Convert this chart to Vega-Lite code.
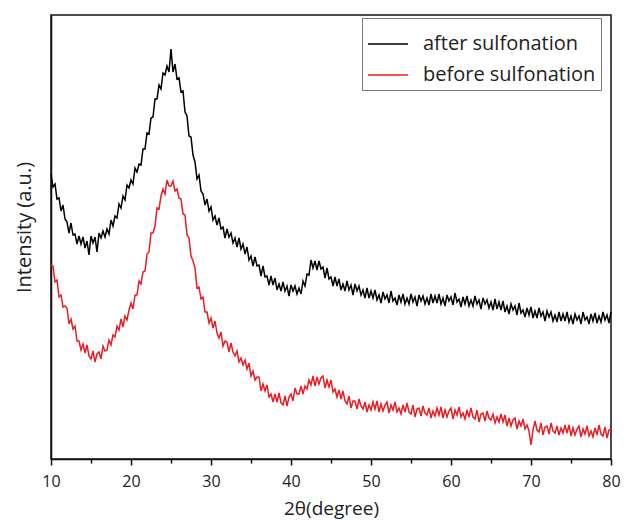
{
  "$schema": "https://vega.github.io/schema/vega-lite/v6.json",
  "width": 560,
  "height": 444,
  "autosize": {"type": "none"},
  "padding": {"left": 51, "top": 15, "right": 17, "bottom": 62},
  "background": "white",
  "config": {
    "view": {"stroke": "#111111", "strokeWidth": 1.5},
    "font": "Open Sans",
    "axis": {"labelColor": "#222222", "titleColor": "#222222", "domainColor": "#111111", "tickColor": "#111111", "domainWidth": 1.5, "tickWidth": 1.5, "grid": false, "titleFontWeight": "normal"}
  },
  "data": {
    "values": [
      {"x":10,"a":285,"b":194},{"x":10.25,"a":272,"b":193},{"x":10.5,"a":275,"b":177},{"x":10.75,"a":260,"b":179},
      {"x":11,"a":261,"b":162},{"x":11.25,"a":248,"b":164},{"x":11.5,"a":254,"b":152},{"x":11.75,"a":240,"b":153},
      {"x":12,"a":237,"b":151},{"x":12.25,"a":226,"b":135},{"x":12.5,"a":236,"b":140},{"x":12.75,"a":224,"b":130},
      {"x":13,"a":225,"b":133},{"x":13.25,"a":215,"b":118},{"x":13.5,"a":223,"b":118},{"x":13.75,"a":215,"b":109},
      {"x":14,"a":222,"b":115},{"x":14.25,"a":211,"b":106},{"x":14.5,"a":218,"b":114},{"x":14.75,"a":204,"b":103},
      {"x":15,"a":223,"b":100},{"x":15.25,"a":216,"b":108},{"x":15.5,"a":222,"b":97},{"x":15.75,"a":207,"b":105},
      {"x":16,"a":226,"b":107},{"x":16.25,"a":221,"b":100},{"x":16.5,"a":228,"b":113},{"x":16.75,"a":222,"b":108},
      {"x":17,"a":230,"b":109},{"x":17.25,"a":225,"b":119},{"x":17.5,"a":239,"b":114},{"x":17.75,"a":233,"b":124},
      {"x":18,"a":243,"b":122},{"x":18.25,"a":241,"b":133},{"x":18.5,"a":255,"b":129},{"x":18.75,"a":251,"b":140},
      {"x":19,"a":263,"b":132},{"x":19.25,"a":259,"b":143},{"x":19.5,"a":274,"b":139},{"x":19.75,"a":271,"b":149},
      {"x":20,"a":279,"b":156},{"x":20.25,"a":275,"b":150},{"x":20.5,"a":291,"b":164},{"x":20.75,"a":287,"b":164},
      {"x":21,"a":295,"b":178},{"x":21.25,"a":294,"b":175},{"x":21.5,"a":310,"b":187},{"x":21.75,"a":310,"b":188},
      {"x":22,"a":326,"b":205},{"x":22.25,"a":325,"b":207},{"x":22.5,"a":341,"b":226},{"x":22.75,"a":342,"b":226},
      {"x":23,"a":360,"b":233},{"x":23.25,"a":360,"b":251},{"x":23.5,"a":374,"b":250},{"x":23.75,"a":370,"b":263},
      {"x":24,"a":386,"b":270},{"x":24.25,"a":384,"b":265},{"x":24.5,"a":393,"b":279},{"x":24.75,"a":387,"b":273},
      {"x":25,"a":410,"b":273},{"x":25.25,"a":387,"b":278},{"x":25.5,"a":395,"b":268},{"x":25.75,"a":380,"b":270},
      {"x":26,"a":381,"b":261},{"x":26.25,"a":367,"b":260},{"x":26.5,"a":368,"b":245},{"x":26.75,"a":347,"b":244},
      {"x":27,"a":343,"b":224},{"x":27.25,"a":323,"b":221},{"x":27.5,"a":322,"b":203},{"x":27.75,"a":304,"b":198},
      {"x":28,"a":297,"b":191},{"x":28.25,"a":280,"b":171},{"x":28.5,"a":284,"b":172},{"x":28.75,"a":268,"b":160},
      {"x":29,"a":265,"b":162},{"x":29.25,"a":254,"b":147},{"x":29.5,"a":260,"b":147},{"x":29.75,"a":248,"b":136},
      {"x":30,"a":252,"b":141},{"x":30.25,"a":239,"b":131},{"x":30.5,"a":243,"b":138},{"x":30.75,"a":234,"b":126},
      {"x":31,"a":241,"b":121},{"x":31.25,"a":230,"b":127},{"x":31.5,"a":232,"b":113},{"x":31.75,"a":221,"b":118},
      {"x":32,"a":230,"b":117},{"x":32.25,"a":222,"b":107},{"x":32.5,"a":226,"b":116},{"x":32.75,"a":216,"b":107},
      {"x":33,"a":221,"b":103},{"x":33.25,"a":212,"b":108},{"x":33.5,"a":221,"b":97},{"x":33.75,"a":210,"b":101},
      {"x":34,"a":215,"b":94},{"x":34.25,"a":205,"b":99},{"x":34.5,"a":212,"b":90},{"x":34.75,"a":199,"b":96},
      {"x":35,"a":203,"b":83},{"x":35.25,"a":193,"b":88},{"x":35.5,"a":202,"b":79},{"x":35.75,"a":193,"b":82},
      {"x":36,"a":194,"b":82},{"x":36.25,"a":183,"b":68},{"x":36.5,"a":193,"b":75},{"x":36.75,"a":182,"b":68},
      {"x":37,"a":183,"b":74},{"x":37.25,"a":174,"b":62},{"x":37.5,"a":183,"b":65},{"x":37.75,"a":174,"b":57},
      {"x":38,"a":181,"b":65},{"x":38.25,"a":169,"b":57},{"x":38.5,"a":175,"b":66},{"x":38.75,"a":168,"b":56},
      {"x":39,"a":177,"b":54},{"x":39.25,"a":168,"b":63},{"x":39.5,"a":173,"b":53},{"x":39.75,"a":163,"b":62},
      {"x":40,"a":174,"b":65},{"x":40.25,"a":168,"b":58},{"x":40.5,"a":173,"b":71},{"x":40.75,"a":165,"b":65},
      {"x":41,"a":171,"b":65},{"x":41.25,"a":165,"b":73},{"x":41.5,"a":178,"b":65},{"x":41.75,"a":173,"b":73},
      {"x":42,"a":185,"b":70},{"x":42.25,"a":184,"b":79},{"x":42.5,"a":199,"b":74},{"x":42.75,"a":191,"b":83},
      {"x":43,"a":198,"b":73},{"x":43.25,"a":189,"b":82},{"x":43.5,"a":198,"b":75},{"x":43.75,"a":190,"b":81},
      {"x":44,"a":192,"b":83},{"x":44.25,"a":181,"b":71},{"x":44.5,"a":191,"b":79},{"x":44.75,"a":180,"b":72},
      {"x":45,"a":182,"b":79},{"x":45.25,"a":173,"b":67},{"x":45.5,"a":182,"b":70},{"x":45.75,"a":173,"b":62},
      {"x":46,"a":180,"b":69},{"x":46.25,"a":169,"b":60},{"x":46.5,"a":175,"b":68},{"x":46.75,"a":168,"b":58},
      {"x":47,"a":178,"b":55},{"x":47.25,"a":169,"b":63},{"x":47.5,"a":174,"b":51},{"x":47.75,"a":164,"b":58},
      {"x":48,"a":175,"b":58},{"x":48.25,"a":168,"b":50},{"x":48.5,"a":173,"b":60},{"x":48.75,"a":164,"b":53},
      {"x":49,"a":169,"b":50},{"x":49.25,"a":161,"b":57},{"x":49.5,"a":171,"b":47},{"x":49.75,"a":161,"b":54},
      {"x":50,"a":168,"b":49},{"x":50.25,"a":161,"b":57},{"x":50.5,"a":169,"b":50},{"x":50.75,"a":159,"b":58},
      {"x":51,"a":164,"b":47},{"x":51.25,"a":156,"b":55},{"x":51.5,"a":167,"b":48},{"x":51.75,"a":160,"b":54},
      {"x":52,"a":164,"b":57},{"x":52.25,"a":156,"b":46},{"x":52.5,"a":168,"b":54},{"x":52.75,"a":158,"b":49},
      {"x":53,"a":161,"b":57},{"x":53.25,"a":154,"b":47},{"x":53.5,"a":164,"b":51},{"x":53.75,"a":157,"b":45},
      {"x":54,"a":165,"b":54},{"x":54.25,"a":155,"b":47},{"x":54.5,"a":161,"b":56},{"x":54.75,"a":155,"b":47},
      {"x":55,"a":165,"b":45},{"x":55.25,"a":157,"b":54},{"x":55.5,"a":162,"b":42},{"x":55.75,"a":153,"b":50},
      {"x":56,"a":164,"b":51},{"x":56.25,"a":158,"b":43},{"x":56.5,"a":163,"b":53},{"x":56.75,"a":155,"b":46},
      {"x":57,"a":161,"b":44},{"x":57.25,"a":154,"b":51},{"x":57.5,"a":165,"b":41},{"x":57.75,"a":156,"b":48},
      {"x":58,"a":163,"b":43},{"x":58.25,"a":156,"b":51},{"x":58.5,"a":165,"b":44},{"x":58.75,"a":155,"b":52},
      {"x":59,"a":161,"b":41},{"x":59.25,"a":153,"b":49},{"x":59.5,"a":164,"b":42},{"x":59.75,"a":158,"b":48},
      {"x":60,"a":162,"b":51},{"x":60.25,"a":154,"b":40},{"x":60.5,"a":166,"b":49},{"x":60.75,"a":157,"b":44},
      {"x":61,"a":160,"b":52},{"x":61.25,"a":152,"b":42},{"x":61.5,"a":162,"b":46},{"x":61.75,"a":155,"b":40},
      {"x":62,"a":163,"b":49},{"x":62.25,"a":153,"b":42},{"x":62.5,"a":159,"b":51},{"x":62.75,"a":153,"b":42},
      {"x":63,"a":163,"b":40},{"x":63.25,"a":155,"b":49},{"x":63.5,"a":159,"b":37},{"x":63.75,"a":150,"b":45},
      {"x":64,"a":161,"b":46},{"x":64.25,"a":155,"b":38},{"x":64.5,"a":159,"b":48},{"x":64.75,"a":151,"b":41},
      {"x":65,"a":157,"b":39},{"x":65.25,"a":149,"b":45},{"x":65.5,"a":160,"b":36},{"x":65.75,"a":150,"b":42},
      {"x":66,"a":157,"b":37},{"x":66.25,"a":149,"b":45},{"x":66.5,"a":158,"b":37},{"x":66.75,"a":147,"b":44},
      {"x":67,"a":153,"b":33},{"x":67.25,"a":145,"b":41},{"x":67.5,"a":155,"b":33},{"x":67.75,"a":149,"b":39},
      {"x":68,"a":153,"b":41},{"x":68.25,"a":144,"b":30},{"x":68.5,"a":156,"b":38},{"x":68.75,"a":146,"b":33},
      {"x":69,"a":149,"b":40},{"x":69.25,"a":142,"b":30},{"x":69.5,"a":151,"b":34},{"x":69.75,"a":144,"b":28},
      {"x":70,"a":152,"b":14},{"x":70.25,"a":141,"b":29},{"x":70.5,"a":148,"b":38},{"x":70.75,"a":141,"b":29},
      {"x":71,"a":151,"b":27},{"x":71.25,"a":143,"b":36},{"x":71.5,"a":147,"b":24},{"x":71.75,"a":138,"b":32},
      {"x":72,"a":148,"b":33},{"x":72.25,"a":142,"b":25},{"x":72.5,"a":147,"b":36},{"x":72.75,"a":138,"b":28},
      {"x":73,"a":144,"b":26},{"x":73.25,"a":137,"b":33},{"x":73.5,"a":147,"b":24},{"x":73.75,"a":138,"b":31},
      {"x":74,"a":145,"b":26},{"x":74.25,"a":138,"b":34},{"x":74.5,"a":147,"b":26},{"x":74.75,"a":137,"b":34},
      {"x":75,"a":143,"b":23},{"x":75.25,"a":135,"b":31},{"x":75.5,"a":145,"b":24},{"x":75.75,"a":139,"b":30},
      {"x":76,"a":143,"b":33},{"x":76.25,"a":135,"b":22},{"x":76.5,"a":147,"b":30},{"x":76.75,"a":139,"b":25},
      {"x":77,"a":142,"b":33},{"x":77.25,"a":135,"b":23},{"x":77.5,"a":145,"b":28},{"x":77.75,"a":138,"b":22},
      {"x":78,"a":146,"b":31},{"x":78.25,"a":136,"b":24},{"x":78.5,"a":143,"b":34},{"x":78.75,"a":137,"b":25},
      {"x":79,"a":147,"b":23},{"x":79.25,"a":139,"b":32},{"x":79.5,"a":144,"b":21},{"x":79.75,"a":136,"b":29},
      {"x":80,"a":147,"b":30}
    ]
  },
  "transform": [{"fold": ["a", "b"], "as": ["s", "v"]}],
  "mark": {"type": "line", "strokeWidth": 1.5, "interpolate": "linear"},
  "encoding": {
    "x": {
      "field": "x", "type": "quantitative",
      "scale": {"domain": [10, 80], "nice": false, "zero": false},
      "axis": {
        "values": [10, 15, 20, 25, 30, 35, 40, 45, 50, 55, 60, 65, 70, 75, 80],
        "labelExpr": "datum.value % 10 === 0 ? datum.label : ''",
        "tickSize": {"condition": {"test": "datum.value % 10 === 0", "value": 6}, "value": 4},
        "labelFontSize": 16, "labelPadding": 8, "labelFlush": false,
        "title": "2θ(degree)", "titleFontSize": 19, "titlePadding": 10
      }
    },
    "y": {
      "field": "v", "type": "quantitative",
      "scale": {"domain": [0, 444], "nice": false, "zero": false},
      "axis": {
        "labels": false, "ticks": false,
        "title": "Intensity (a.u.)", "titleFontSize": 20, "titlePadding": 17, "titleY": 212
      }
    },
    "color": {
      "field": "s", "type": "nominal",
      "scale": {"domain": ["a", "b"], "range": ["#000000", "#ec1c24"]},
      "legend": {
        "title": null,
        "orient": "none", "legendX": 311, "legendY": 3,
        "labelExpr": "datum.label === 'a' ? 'after sulfonation' : 'before sulfonation'",
        "symbolType": "stroke", "symbolSize": 1600, "symbolStrokeWidth": 1.5,
        "labelFontSize": 20, "labelColor": "#222222", "labelOffset": 14, "labelLimit": 0,
        "rowPadding": -10, "padding": 5,
        "strokeColor": "#777777", "fillColor": "white"
      }
    }
  }
}
